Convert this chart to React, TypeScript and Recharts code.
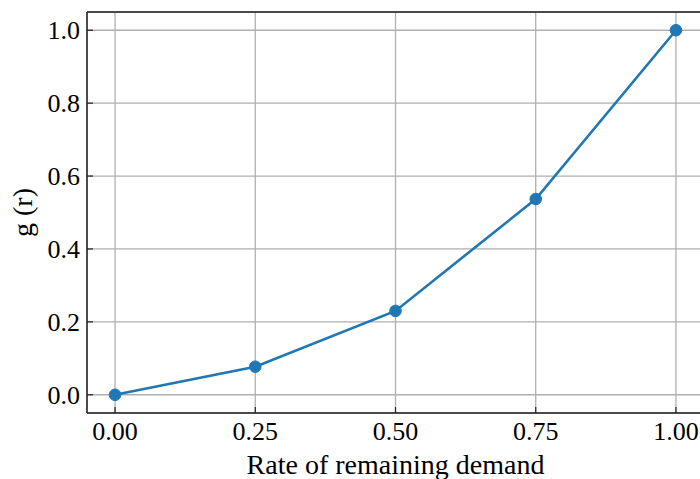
import {
  LineChart,
  Line,
  XAxis,
  YAxis,
  CartesianGrid,
  ReferenceLine,
} from "recharts";

const rates = [0, 0.25, 0.5, 0.75, 1.0];
const gValues = [0, 0.077, 0.23, 0.537, 1.0];
const xTicks = [0, 0.25, 0.5, 0.75, 1.0];
const yTicks = [0, 0.2, 0.4, 0.6, 0.8, 1.0];

const data = rates.map((r, i) => ({ r, g: gValues[i] }));

const FONT = "'Liberation Serif', 'Times New Roman', serif";

function XLabel(props: any) {
  const { viewBox } = props;
  const cx = viewBox.x + viewBox.width / 2;
  return (
    <text x={cx} y={474} textAnchor="middle" fontFamily={FONT} fontSize={28} fill="#000">
      Rate of remaining demand
    </text>
  );
}

function YLabel(props: any) {
  const { viewBox } = props;
  const cy = viewBox.y + viewBox.height / 2;
  return (
    <text
      x={32}
      y={cy}
      textAnchor="middle"
      transform={`rotate(-90, 32, ${cy})`}
      fontFamily={FONT}
      fontSize={28}
      fill="#000"
    >
      g (r)
    </text>
  );
}

export default function App() {
  return (
    <div
      style={{
        position: "absolute",
        left: 0,
        top: 0,
        width: 700,
        height: 479,
        overflow: "hidden",
        background: "#fff",
      }}
    >
      <LineChart
        width={720}
        height={479}
        data={data}
        margin={{ top: 12, right: 16, left: 0, bottom: 0 }}
      >
        <CartesianGrid stroke="#b0b0b0" strokeWidth={1.3} />
        <XAxis
          dataKey="r"
          type="number"
          domain={[-0.05, 1.05]}
          ticks={xTicks}
          tickFormatter={(v: number) => v.toFixed(2)}
          height={66}
          tickSize={-6}
          tickMargin={14.5}
          stroke="#000"
          tick={{ fill: "#000", fontSize: 26, fontFamily: FONT }}
          axisLine={{ stroke: "#222", strokeWidth: 1.5 }}
          tickLine={{ stroke: "#222", strokeWidth: 1.2 }}
          label={<XLabel />}
        />
        <YAxis
          type="number"
          domain={[-0.05, 1.05]}
          ticks={yTicks}
          tickFormatter={(v: number) => v.toFixed(1)}
          width={87}
          tickSize={-6}
          tickMargin={13}
          stroke="#000"
          tick={{ fill: "#000", fontSize: 26, fontFamily: FONT }}
          axisLine={{ stroke: "#222", strokeWidth: 1.5 }}
          tickLine={{ stroke: "#222", strokeWidth: 1.2 }}
          label={<YLabel />}
        />
        <ReferenceLine y={1.05} stroke="#222" strokeWidth={1.5} />
        <Line
          dataKey="g"
          stroke="#1f77b4"
          strokeWidth={2.6}
          dot={{ r: 5.8, fill: "#1f77b4", stroke: "#1f77b4", strokeWidth: 1 }}
          isAnimationActive={false}
        />
      </LineChart>
    </div>
  );
}
